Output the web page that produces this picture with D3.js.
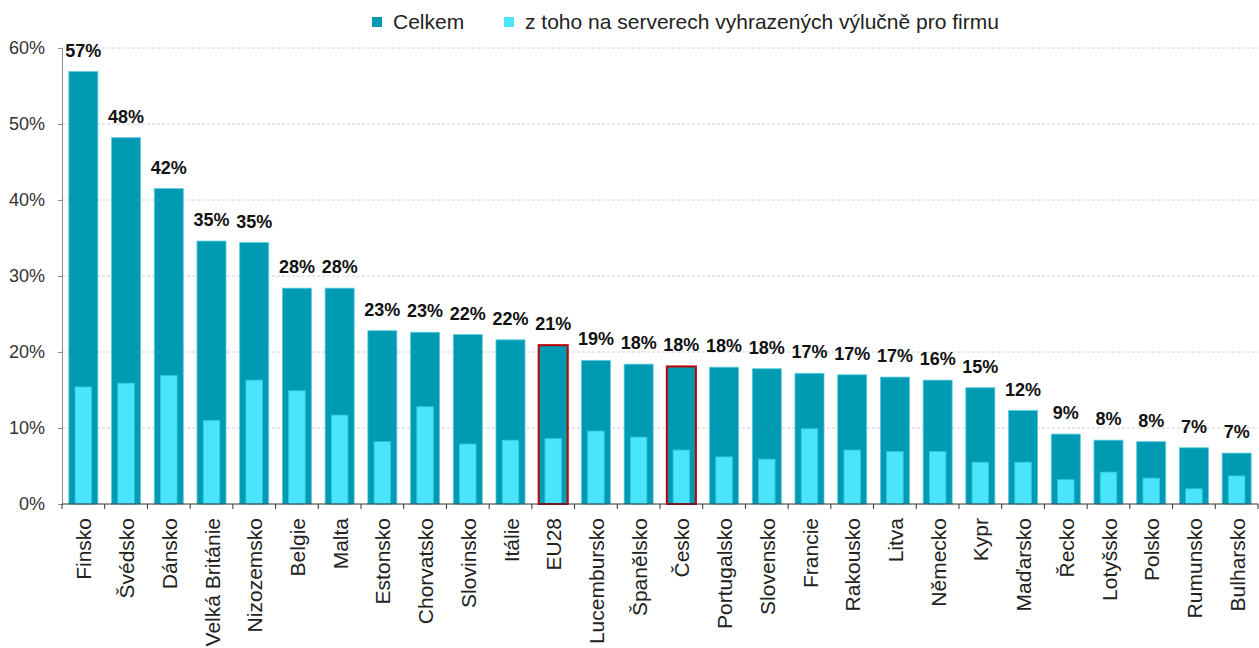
<!DOCTYPE html>
<html>
<head>
<meta charset="utf-8">
<script src="https://cdn.jsdelivr.net/npm/d3@7"></script>
<style>
  body { margin: 0; background: #fff; }
  text { font-family: "Liberation Sans", Arial, sans-serif; }
</style>
</head>
<body>
<div id="chart"></div>
<script>
var categories = ["Finsko","Švédsko","Dánsko","Velká Británie","Nizozemsko","Belgie","Malta","Estonsko","Chorvatsko","Slovinsko","Itálie","EU28","Lucembursko","Španělsko","Česko","Portugalsko","Slovensko","Francie","Rakousko","Litva","Německo","Kypr","Maďarsko","Řecko","Lotyšsko","Polsko","Rumunsko","Bulharsko"];
var celkem = [56.9,48.2,41.5,34.6,34.4,28.4,28.4,22.8,22.6,22.3,21.6,20.9,18.9,18.4,18.1,18.0,17.8,17.2,17.0,16.7,16.3,15.3,12.3,9.2,8.4,8.2,7.4,6.7];
var servery = [15.4,15.9,16.9,11.0,16.3,14.9,11.7,8.2,12.8,7.9,8.4,8.6,9.6,8.8,7.1,6.2,5.9,9.9,7.1,6.9,6.9,5.5,5.5,3.2,4.2,3.4,2.0,3.7];
var dataLabels = ["57%","48%","42%","35%","35%","28%","28%","23%","23%","22%","22%","21%","19%","18%","18%","18%","18%","17%","17%","17%","16%","15%","12%","9%","8%","8%","7%","7%"];
var highlighted = ["EU28","Česko"];
var yTicks = [0,10,20,30,40,50,60];
var legendNames = ["Celkem","z toho na serverech vyhrazených výlučně pro firmu"];

var width = 1259;
var height = 648;
var dark = "#009ab3";
var light = "#4ae4fd";

var x = d3.scaleBand().domain(categories).range([62,1258]).paddingInner(0.32).paddingOuter(0.16);
var y = d3.scaleLinear().domain([0,60]).range([504,48]);

var svg = d3.select("#chart").append("svg")
    .attr("width", width)
    .attr("height", height);

// gridlines
svg.append("g")
    .selectAll("line")
    .data(yTicks.filter(function(d){ return d > 0; }))
    .join("line")
    .attr("x1", 62).attr("x2", 1258)
    .attr("y1", function(d){ return y(d); })
    .attr("y2", function(d){ return y(d); })
    .attr("stroke", "#d0d0d0")
    .attr("stroke-dasharray", "3,2");

// y axis
var yAxis = svg.append("g")
    .attr("transform", "translate(62,0)")
    .call(d3.axisLeft(y).tickValues(yTicks).tickSize(4).tickFormat(function(d){ return d + "%"; }));
yAxis.select(".domain").attr("stroke", "#8c8c8c");
yAxis.selectAll(".tick line").attr("stroke", "#8c8c8c");
yAxis.selectAll("text")
    .attr("font-size", 18)
    .attr("fill", "#333")
    .attr("x", -17)
    .style("font-family", "Liberation Sans, Arial, sans-serif");

// main bars
svg.append("g")
    .selectAll("rect")
    .data(categories)
    .join("rect")
    .attr("x", function(d){ return x(d); })
    .attr("y", function(d,i){ return y(celkem[i]); })
    .attr("width", x.bandwidth())
    .attr("height", function(d,i){ return y(0) - y(celkem[i]); })
    .attr("fill", dark)
    .attr("stroke", "#5ccde0")
    .attr("stroke-width", 0.8);

// inner bars
var innerW = x.bandwidth() * 0.57;
svg.append("g")
    .selectAll("rect")
    .data(categories)
    .join("rect")
    .attr("x", function(d){ return x(d) + (x.bandwidth() - innerW) / 2; })
    .attr("y", function(d,i){ return y(servery[i]); })
    .attr("width", innerW)
    .attr("height", function(d,i){ return y(0) - y(servery[i]); })
    .attr("fill", light)
    .attr("stroke", "#2fc6de")
    .attr("stroke-width", 0.8);

// highlight outlines
svg.append("g")
    .selectAll("rect")
    .data(highlighted)
    .join("rect")
    .attr("x", function(d){ return x(d); })
    .attr("y", function(d){ return y(celkem[categories.indexOf(d)]); })
    .attr("width", x.bandwidth())
    .attr("height", function(d){ return y(0) - y(celkem[categories.indexOf(d)]); })
    .attr("fill", "none")
    .attr("stroke", "#c00000")
    .attr("stroke-width", 2);

// x axis line + ticks between categories
svg.append("line")
    .attr("x1", 62).attr("x2", 1258)
    .attr("y1", y(0)).attr("y2", y(0))
    .attr("stroke", "#333");
var bounds = categories.map(function(d){ return x(d) - x.step() * x.paddingInner() / 2; });
bounds.push(1258);
svg.append("g")
    .selectAll("line")
    .data(bounds)
    .join("line")
    .attr("x1", function(d){ return d; }).attr("x2", function(d){ return d; })
    .attr("y1", y(0)).attr("y2", y(0) + 5)
    .attr("stroke", "#333");

// category labels
svg.append("g")
    .selectAll("text")
    .data(categories)
    .join("text")
    .attr("transform", function(d){ return "translate(" + (x(d) + x.bandwidth()/2 + 8) + "," + 518 + ") rotate(-90)"; })
    .attr("text-anchor", "end")
    .attr("font-size", 21)
    .attr("fill", "#222")
    .text(function(d){ return d; });

// data labels
svg.append("g")
    .selectAll("text")
    .data(categories)
    .join("text")
    .attr("x", function(d){ return x(d) + x.bandwidth()/2; })
    .attr("y", function(d,i){ return y(celkem[i]) - 15; })
    .attr("text-anchor", "middle")
    .attr("font-size", 18)
    .attr("font-weight", "bold")
    .attr("fill", "#111")
    .text(function(d,i){ return dataLabels[i]; });

// legend
var legendX = [372, 504];
var legend = svg.append("g")
    .selectAll("g")
    .data(legendNames)
    .join("g")
    .attr("transform", function(d,i){ return "translate(" + legendX[i] + ",17)"; });
legend.append("rect")
    .attr("width", 10).attr("height", 10)
    .attr("fill", function(d,i){ return i == 0 ? dark : light; });
legend.append("text")
    .attr("x", 21).attr("y", 12)
    .attr("font-size", 21)
    .attr("fill", "#222")
    .text(function(d){ return d; });
</script>
</body>
</html>
